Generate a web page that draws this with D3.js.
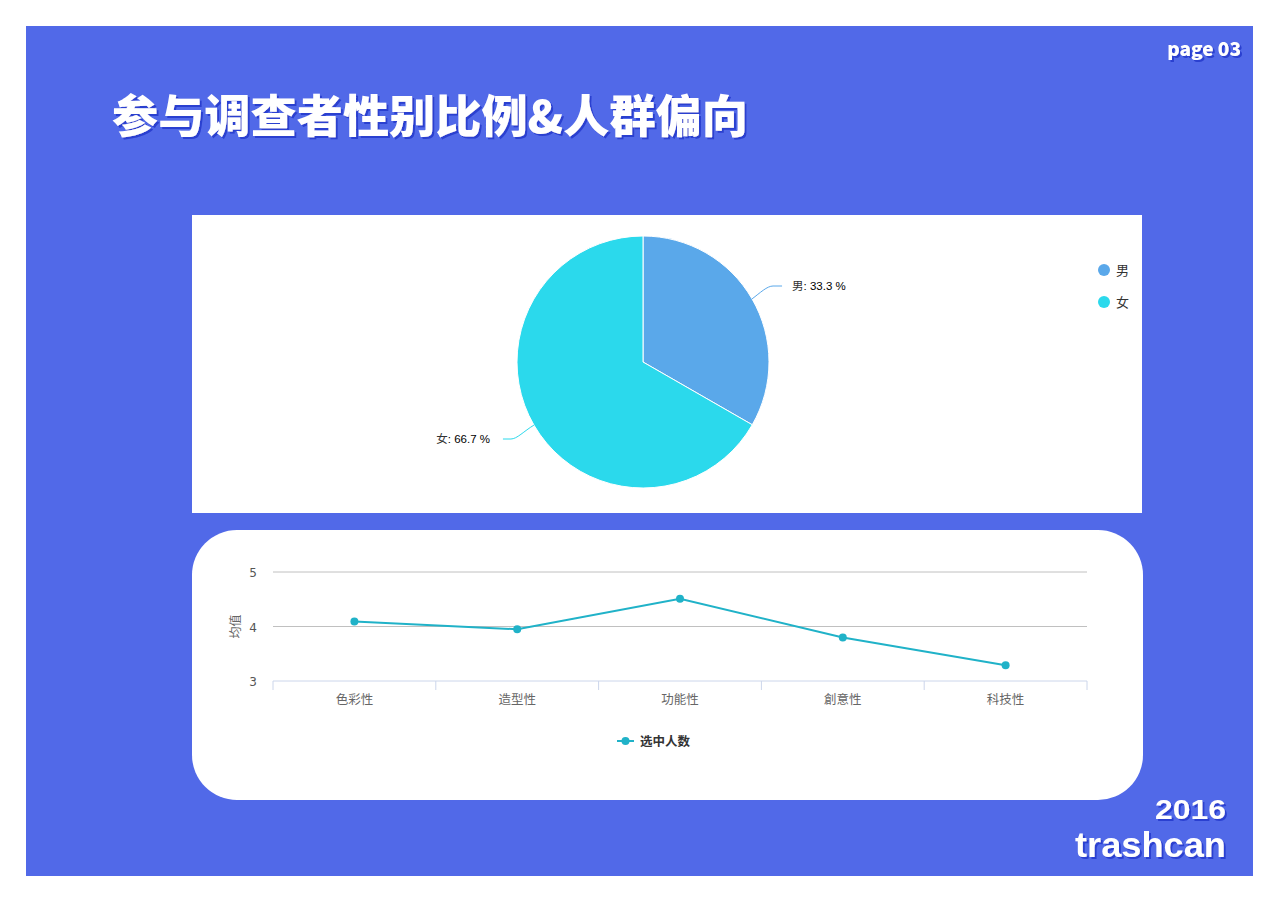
<!DOCTYPE html>
<html><head><meta charset="utf-8">
<script src="https://cdn.jsdelivr.net/npm/d3@7"></script>
<style>
html,body{margin:0;padding:0;background:#fff;}
svg{display:block;}
</style></head>
<body>
<svg id="c" width="1280" height="905"></svg>
<script>
const pieLabels = ["男", "女"];
const pieValues = [33.3, 66.7];
const pieColors = ["#5aa8ea", "#2bd9ec"];

const lineCategories = ["色彩性", "造型性", "功能性", "創意性", "科技性"];
const lineValues = [4.09, 3.95, 4.51, 3.80, 3.29];
const yTicks = [3, 4, 5];
const seriesName = "选中人数";

const svg = d3.select("#c");
const cjk = "'Noto Sans CJK SC','Noto Sans',sans-serif";
const latinBold = "'Liberation Sans',Arial,sans-serif";

const defs = svg.append("defs");
defs.append("filter").attr("id","sh").attr("x","-10%").attr("y","-10%").attr("width","130%").attr("height","130%")
  .append("feDropShadow").attr("dx",2).attr("dy",2).attr("stdDeviation",0).attr("flood-color","#2a3fd0").attr("flood-opacity",1);

// background
svg.append("rect").attr("x",26).attr("y",26).attr("width",1227).attr("height",850).attr("fill","#5169e8");

function blockText(x,y,txt,size,anchor,len,font){
  const t = svg.append("text").attr("x",x).attr("y",y).attr("text-anchor",anchor).attr("font-family",font||cjk)
   .attr("font-weight",900).attr("font-size",size).attr("fill","#fff").attr("filter","url(#sh)").text(txt);
  if(len) t.attr("textLength",len).attr("lengthAdjust","spacingAndGlyphs");
  return t;
}
blockText(112,133,"参与调查者性别比例&人群偏向",45,"start",636);
blockText(1241,56,"page 03",19,"end");
blockText(1226,819,"2016",28,"end",71,latinBold);
blockText(1226,857,"trashcan",35,"end",151,latinBold);

// pie card
svg.append("rect").attr("x",192).attr("y",215).attr("width",950).attr("height",298).attr("fill","#fff");
const cx=643, cy=362, r=126;
const pie = d3.pie().sort(null).value(d=>d)(pieValues);
const arc = d3.arc().innerRadius(0).outerRadius(r);
const pg = svg.append("g").attr("transform",`translate(${cx},${cy})`);
pg.selectAll("path").data(pie).enter().append("path")
  .attr("d",arc).attr("fill",(d,i)=>pieColors[i]).attr("stroke","#fff").attr("stroke-width",1);
pie.forEach((d,i)=>{
  const a=(d.startAngle+d.endAngle)/2;
  const sx=Math.sin(a)*r, sy=-Math.cos(a)*r;
  const right = Math.sin(a)>0;
  const ex = right ? sx+21 : sx-23;
  const ey = right ? -76 : 77;
  pg.append("path").attr("d",`M${sx},${sy} C${sx+(right?8:-10)},${sy+(right?-6:6)} ${ex-(right?6:-6)},${ey} ${ex},${ey} L${right?ex+9:ex-8},${ey}`)
    .attr("fill","none").attr("stroke",pieColors[i]).attr("stroke-width",1);
  const t = pg.append("text").attr("x",right?ex+19:ex-21).attr("y",ey+4).attr("text-anchor",right?"start":"end")
    .attr("font-family","'Liberation Sans',Arial,sans-serif").attr("font-size",11.5).attr("fill","#000");
  t.append("tspan").attr("font-family",cjk).attr("fill","#333").text(pieLabels[i]);
  t.append("tspan").text(": "+d.data.toFixed(1)+" %");
});
// pie legend
pieLabels.forEach((l,i)=>{
  svg.append("circle").attr("cx",1104).attr("cy",270+i*32).attr("r",6).attr("fill",pieColors[i]);
  svg.append("text").attr("x",1116).attr("y",275+i*32).attr("font-family",cjk).attr("font-size",13).attr("fill","#333").text(l);
});

// line card
svg.append("rect").attr("x",192).attr("y",530).attr("width",951).attr("height",270).attr("rx",45).attr("ry",45).attr("fill","#fff");
const x = d3.scaleBand().domain(lineCategories).range([273,1087]);
const y = d3.scaleLinear().domain([3,5]).range([681,572]);
svg.append("g").selectAll("line").data(yTicks.filter(v=>v>3)).enter().append("line")
  .attr("x1",273).attr("x2",1087).attr("y1",d=>y(d)).attr("y2",d=>y(d)).attr("stroke","#c0c0c0").attr("stroke-width",1);
svg.append("g").selectAll("text").data(yTicks).enter().append("text")
  .attr("x",257).attr("y",d=>y(d)+5).attr("text-anchor","end").attr("font-family","'DejaVu Sans',sans-serif")
  .attr("font-size",12).attr("fill","#555").text(d=>d);
const xAxis = svg.append("g").attr("transform",`translate(0,${y(3)})`);
xAxis.append("line").attr("x1",273).attr("x2",1087).attr("stroke","#ccd6eb");
const bounds = lineCategories.map(c=>x(c)).concat([x.range()[1]]);
xAxis.selectAll("line.tk").data(bounds).enter().append("line").attr("class","tk")
  .attr("x1",d=>d).attr("x2",d=>d).attr("y1",0).attr("y2",9).attr("stroke","#ccd6eb");
xAxis.selectAll("text").data(lineCategories).enter().append("text")
  .attr("x",d=>x(d)+x.bandwidth()/2).attr("y",23).attr("text-anchor","middle")
  .attr("font-family",cjk).attr("font-size",12.5).attr("fill","#666").text(d=>d);
svg.append("text").attr("transform",`translate(240,${y(4)}) rotate(-90)`).attr("text-anchor","middle")
  .attr("font-family",cjk).attr("font-size",12).attr("fill","#666").text("均值");
const lineColor="#20b2c8";
const lineGen = d3.line().x((d,i)=>x(lineCategories[i])+x.bandwidth()/2).y(d=>y(d));
svg.append("path").datum(lineValues).attr("d",lineGen).attr("fill","none").attr("stroke",lineColor).attr("stroke-width",2);
svg.append("g").selectAll("circle").data(lineValues).enter().append("circle")
  .attr("cx",(d,i)=>x(lineCategories[i])+x.bandwidth()/2).attr("cy",d=>y(d)).attr("r",4).attr("fill",lineColor);
svg.append("line").attr("x1",617).attr("x2",634).attr("y1",741).attr("y2",741).attr("stroke",lineColor).attr("stroke-width",2);
svg.append("circle").attr("cx",625.5).attr("cy",741).attr("r",4).attr("fill",lineColor);
svg.append("text").attr("x",640).attr("y",746).attr("font-family",cjk).attr("font-weight","bold").attr("font-size",12.5).attr("fill","#333").text(seriesName);
</script>
</body></html>
